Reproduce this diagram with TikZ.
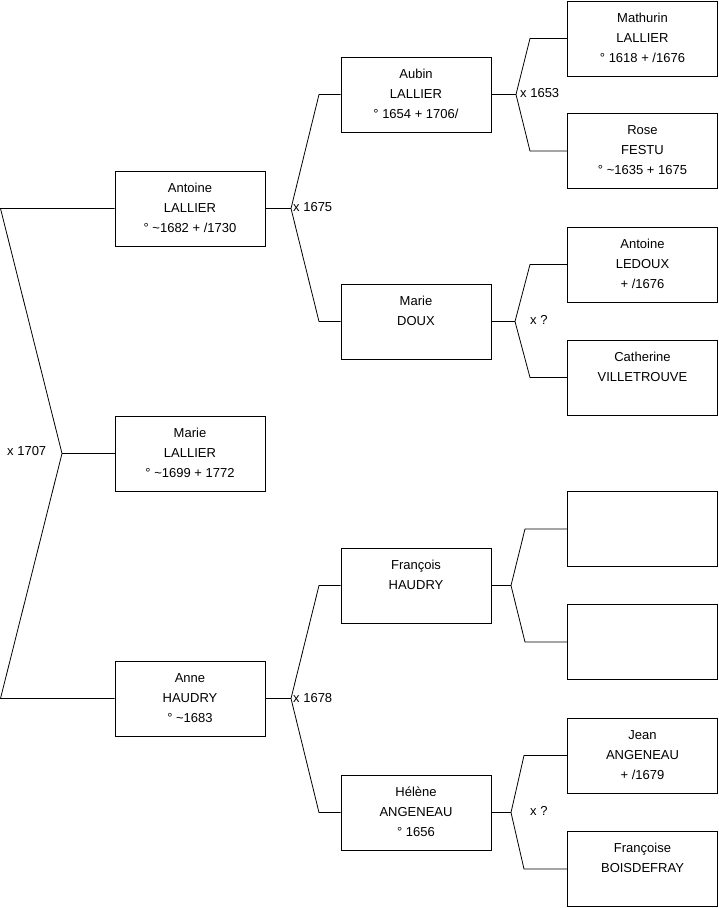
\documentclass[tikz,border=0pt]{standalone}
\usepackage{fontspec}
\setmainfont{Liberation Sans}
\usepackage{tikz}

\newcommand{\pbox}[1]{\parbox[c][75pt][t]{150pt}{\centering\rule{0pt}{21pt}#1}}

\begin{document}
\begin{tikzpicture}[x=1pt,y=-1pt,
    person/.style={draw,rectangle,line width=0.8pt,inner sep=0pt,
      minimum width=150pt,minimum height=75pt,
      font=\fontsize{13}{20}\selectfont},
    link/.style={-,line width=0.8pt},
    mariage/.style={anchor=west,inner sep=0pt,font=\fontsize{13}{15}\selectfont}]

  \useasboundingbox (0,0) rectangle (719,908);

  % generation 1 and 2
  \node[person] (antoine)  at (190,208.5) {\pbox{Antoine\\LALLIER\\° \textasciitilde1682 + /1730}};
  \node[person] (marie)    at (190,453.5) {\pbox{Marie\\LALLIER\\° \textasciitilde1699 + 1772}};
  \node[person] (anne)     at (190,698.5) {\pbox{Anne\\HAUDRY\\° \textasciitilde1683}};

  % generation 3
  \node[person] (aubin)    at (416,94.5)  {\pbox{Aubin\\LALLIER\\° 1654 + 1706/}};
  \node[person] (doux)     at (416,321.5) {\pbox{Marie\\DOUX}};
  \node[person] (francois) at (416,585.5) {\pbox{François\\HAUDRY}};
  \node[person] (helene)   at (416,812.5) {\pbox{Hélène\\ANGENEAU\\° 1656}};

  % generation 4
  \node[person] (mathurin)  at (642.5,38.5)  {\pbox{Mathurin\\LALLIER\\° 1618 + /1676}};
  \node[person] (rose)      at (642.5,151)   {\pbox{Rose\\FESTU\\° \textasciitilde1635 + 1675}};
  \node[person] (ledoux)    at (642.5,264.5) {\pbox{Antoine\\LEDOUX\\+ /1676}};
  \node[person] (catherine) at (642.5,377.5) {\pbox{Catherine\\VILLETROUVE}};
  \node[person] (vide1)     at (642.5,529)   {\pbox{}};
  \node[person] (vide2)     at (642.5,642)   {\pbox{}};
  \node[person] (jean)      at (642.5,755.5) {\pbox{Jean\\ANGENEAU\\+ /1679}};
  \node[person] (francoise) at (642.5,869)   {\pbox{Françoise\\BOISDEFRAY}};

  % root fork
  \coordinate (r1) at (0.5,208.5);
  \coordinate (r2) at (0.5,698.5);
  \coordinate (rv) at (62,453.5);

  \draw[link] (antoine.west) -- (r1) -- (rv) -- (r2) -- (anne.west);
  \draw[link] (rv) -- (marie.west);

  % forks to the parents
  \coordinate (a0) at (291,208.5);
  \coordinate (a1) at (319,94.5);
  \coordinate (a2) at (319,321.5);

  \coordinate (b0) at (516,94.5);
  \coordinate (b1) at (530,38.5);
  \coordinate (b2) at (530,151);

  \coordinate (c0) at (515,321.5);
  \coordinate (c1) at (530,264.5);
  \coordinate (c2) at (530,377.5);

  \coordinate (d0) at (291,698.5);
  \coordinate (d1) at (319,585.5);
  \coordinate (d2) at (319,812.5);

  \coordinate (e0) at (511,585.5);
  \coordinate (e1) at (525,529);
  \coordinate (e2) at (525,642);

  \coordinate (g0) at (511,812.5);
  \coordinate (g1) at (524,755.5);
  \coordinate (g2) at (524,869);

  \draw[link] (antoine.east) -- (a0);
  \draw[link] (aubin.west) -- (a1) -- (a0) -- (a2) -- (doux.west);

  \draw[link] (aubin.east) -- (b0);
  \draw[link] (mathurin.west) -- (b1) -- (b0) -- (b2) -- (rose.west);

  \draw[link] (doux.east) -- (c0);
  \draw[link] (ledoux.west) -- (c1) -- (c0) -- (c2) -- (catherine.west);

  \draw[link] (anne.east) -- (d0);
  \draw[link] (francois.west) -- (d1) -- (d0) -- (d2) -- (helene.west);

  \draw[link] (francois.east) -- (e0);
  \draw[link] (vide1.west) -- (e1) -- (e0) -- (e2) -- (vide2.west);

  \draw[link] (helene.east) -- (g0);
  \draw[link] (jean.west) -- (g1) -- (g0) -- (g2) -- (francoise.west);

  % marriages
  \node[mariage] (m1707) at (7,451)   {x 1707};
  \node[mariage] (m1675) at (293,207) {x 1675};
  \node[mariage] (m1653) at (520,93)  {x 1653};
  \node[mariage] (m1)    at (530,320) {x ?};
  \node[mariage] (m1678) at (293,698) {x 1678};
  \node[mariage] (m2)    at (530,811) {x ?};

\end{tikzpicture}
\end{document}
